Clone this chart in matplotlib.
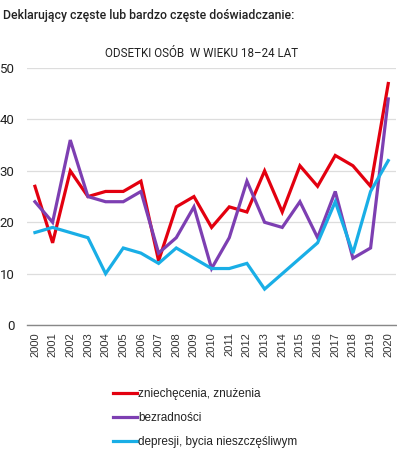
import numpy as np
import matplotlib
matplotlib.use('Agg')
import matplotlib.pyplot as plt

years = list(range(2000, 2021))
zniechecenia = [27, 16, 30, 25, 26, 26, 28, 12.5, 23, 25, 19, 23, 22, 30, 22, 31, 27, 33, 31, 27, 47]
bezradnosci = [24, 20, 36, 25, 24, 24, 26, 14, 17, 23, 11, 17, 28, 20, 19, 24, 17, 26, 13, 15, 44]
depresji = [18, 19, 18, 17, 10, 15, 14, 12, 15, 13, 11, 11, 12, 7, 10, 13, 16, 24, 14, 26, 32]
labels = ['zniechęcenia, znużenia', 'bezradności', 'depresji, bycia nieszczęśliwym']
colors = ['#e3000f', '#7d3fb2', '#19aee6']
yticks = [0, 10, 20, 30, 40, 50]

fig = plt.figure(figsize=(3.97, 4.54), dpi=100)
ax = fig.add_axes([0.068, 0.284, 0.93, 0.566])

lines = []
for vals, lab, col in zip([zniechecenia, bezradnosci, depresji], labels, colors):
    l, = ax.plot(years, vals, color=col, lw=2.3, label=lab, solid_joinstyle='miter')
    lines.append(l)

ax.set_xlim(1999.55, 2020.45)
ax.set_ylim(0, 50)
ax.set_yticks(yticks)
ax.set_xticks(years)
ax.set_xticklabels([str(y) for y in years], rotation=90, fontsize=8,
                   family='Liberation Sans', color='#333333')
ax.set_yticklabels([str(t) for t in yticks], fontsize=9.5, family='Roboto',
                   color='#222222')
ax.tick_params(axis='both', length=0)
ax.tick_params(axis='y', pad=9)
ax.tick_params(axis='x', pad=5)
ax.grid(axis='y', color='#dddddd', lw=0.9)
ax.set_axisbelow(True)
for s in ['top', 'right', 'left']:
    ax.spines[s].set_visible(False)
ax.spines['bottom'].set_color('#888888')
ax.spines['bottom'].set_linewidth(1.0)

fig.text(0.008, 0.966, 'Deklarujący częste lub bardzo częste doświadczanie:',
         fontsize=8.8, family='Roboto', weight='medium', color='#222222',
         va='center', ha='left')
fig.text(0.508, 0.883, 'ODSETKI OSÓB  W WIEKU 18–24 LAT', fontsize=8.4,
         family='Roboto', color='#222222', va='center', ha='center')

leg = fig.legend(handles=lines, loc='upper left', bbox_to_anchor=(0.272, 0.155),
                 frameon=False, handlelength=2.1, handletextpad=0.05,
                 labelspacing=1.0, borderaxespad=0,
                 prop={'family': 'Liberation Sans', 'size': 8.5})
for t in leg.get_texts():
    t.set_color('#222222')

fig.savefig('out.png', dpi=100)
